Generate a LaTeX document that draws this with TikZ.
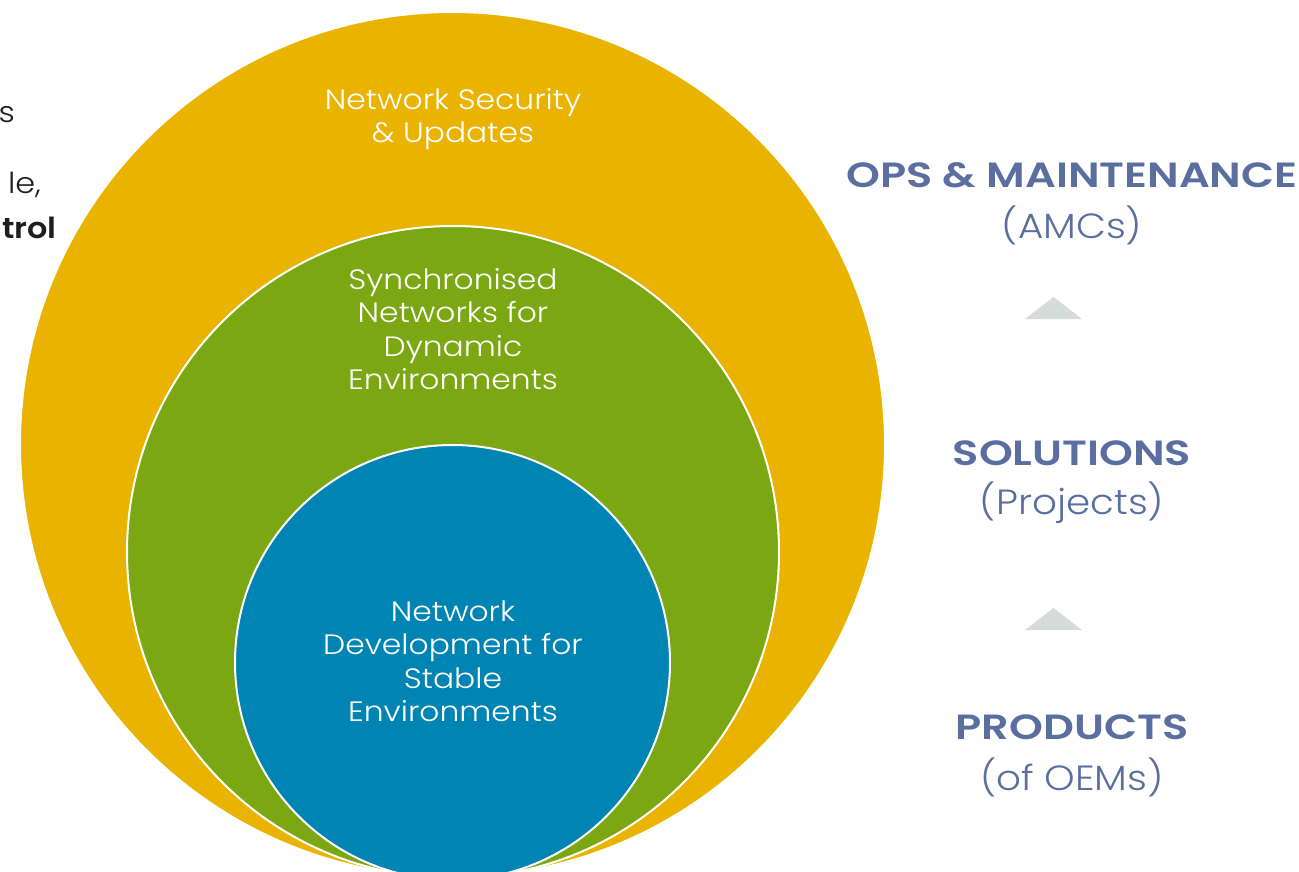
\documentclass[tikz,border=0pt]{standalone}
\usepackage{fontspec}
\setmainfont{Poppins}[UprightFont=* Light, BoldFont=* SemiBold]
\newfontfamily\innerfont{Poppins}[UprightFont=* Light, BoldFont=* SemiBold, FakeStretch=1.12]
\newfontfamily\headfont{Poppins}[UprightFont=* SemiBold, FakeStretch=1.23]
\newfontfamily\subfont{Poppins}[UprightFont=* Light, FakeStretch=1.11]
\newfontfamily\leftfont{Poppins}[UprightFont=* Light, BoldFont=* SemiBold, FakeStretch=1.1]
\definecolor{cyellow}{RGB}{233,179,0}
\definecolor{cgreen}{RGB}{123,167,18}
\definecolor{cblue}{RGB}{0,132,180}
\definecolor{ctext}{RGB}{90,111,160}
\definecolor{ctri}{RGB}{211,220,216}
\definecolor{cleft}{RGB}{30,30,30}
\begin{document}
\begin{tikzpicture}[x=1pt,y=-1pt,
  ring/.style={draw=white,line width=2pt},
  intext/.style={text=white,font=\innerfont\fontsize{28}{33.5}\selectfont,align=center},
  sidehead/.style={text=ctext,font=\headfont\fontsize{35}{40}\selectfont},
  sidesub/.style={text=ctext,font=\subfont\fontsize{35}{40}\selectfont},
  lefttext/.style={text=cleft,font=\leftfont\fontsize{29}{33}\selectfont,anchor=east,inner sep=0pt}]
\useasboundingbox (0,0) rectangle (1299,872);
\clip (0,0) rectangle (1299,872);
\fill[white] (0,0) rectangle (1299,872);
% circles
\fill[cyellow,ring] (452.5,444.5) circle (432.5);
\fill[cgreen,ring] (453,552) circle (326);
\fill[cblue,ring] (452.5,662.5) circle (217.5);
% circle texts
\node[intext] (sec) at (453,119) {Network Security\\\& Updates};
\node[intext] (syn) at (453,329) {Synchronised\\Networks for\\Dynamic\\Environments};
\node[intext] (dev) at (453,661) {Network\\Development for\\Stable\\Environments};
% left texts
\node[lefttext] (l1) at (15,115) {s};
\node[lefttext] (l2) at (41,185) {le,};
\node[lefttext] (l3) at (57,228) {\bfseries trol};
% right column
\node[sidehead] (ops) at (1072,175) {OPS \& MAINTENANCE};
\node[sidesub] (amc) at (1072,225) {(AMCs)};
\node[sidehead] (sol) at (1072,453) {SOLUTIONS};
\node[sidesub] (prj) at (1072,503) {(Projects)};
\node[sidehead] (prd) at (1072,727) {PRODUCTS};
\node[sidesub] (oem) at (1072,777) {(of OEMs)};
% triangles
\fill[ctri] (1053.5,297) -- (1082,319) -- (1025,319) -- cycle;
\fill[ctri] (1053.5,608) -- (1082,630) -- (1025,630) -- cycle;
\end{tikzpicture}
\end{document}
